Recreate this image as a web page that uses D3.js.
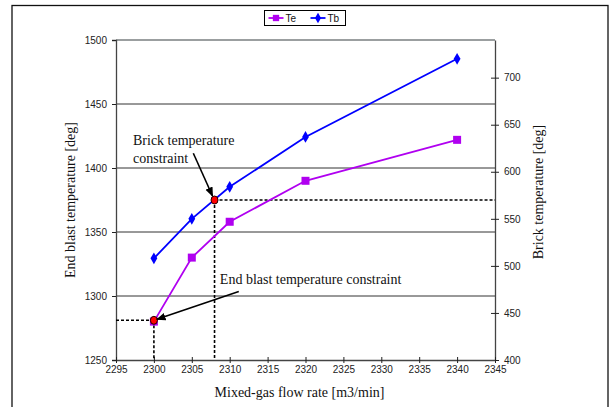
<!DOCTYPE html>
<html>
<head>
<meta charset="utf-8">
<script src="https://cdn.jsdelivr.net/npm/d3@7"></script>
<style>
  body { margin: 0; background: #fff; }
  .tick text { font-family: "Liberation Sans", Arial, sans-serif; font-size: 10px; fill: #222; }
  .title { font-family: "Liberation Serif", "Times New Roman", serif; font-size: 14px; fill: #111; }
</style>
</head>
<body>
<div id="chart"></div>
<script>
// data
let flow = [2300, 2305, 2310, 2320, 2340];
let te = [1280, 1330, 1358, 1390, 1422];      // End blast temperature (left axis)
let tb = [508, 550, 584, 637, 720];           // Brick temperature (right axis)
let xTicks = d3.range(2295, 2346, 5);
let yLeftTicks = [1250, 1300, 1350, 1400, 1450, 1500];
let yRightTicks = [400, 450, 500, 550, 600, 650, 700];
// constraint points
let endBlastPoint = {flow: 2300, te: 1281};
let brickPoint = {flow: 2308, tb: 570};

var W = 609, H = 407;
var margin = {top: 40, right: 114, bottom: 47, left: 116},
    width = W - margin.left - margin.right,
    height = H - margin.top - margin.bottom;

let svg = d3.select("#chart").append("svg")
    .attr("width", W)
    .attr("height", H);

// outer frame
svg.append("rect")
    .attr("x", 12).attr("y", 5.5)
    .attr("width", 596).attr("height", 410)
    .attr("fill", "none")
    .attr("stroke", "#111")
    .attr("stroke-width", 1.3);

let defs = svg.append("defs");
defs.append("marker")
    .attr("id", "arrow")
    .attr("viewBox", "0 0 10 10")
    .attr("refX", 9).attr("refY", 5)
    .attr("markerWidth", 6).attr("markerHeight", 6)
    .attr("orient", "auto")
  .append("path")
    .attr("d", "M0,1 L10,5 L0,9 z")
    .attr("fill", "#000");

let g = svg.append("g")
    .attr("transform", "translate(" + margin.left + "," + margin.top + ")");

let x = d3.scaleLinear().domain([2295, 2345]).range([0, width]);
let yL = d3.scaleLinear().domain([1250, 1500]).range([height, 0]);
let yR = d3.scaleLinear().domain([400, 740]).range([height, 0]);
let fmt = d3.format("d");

// grid lines
g.append("g")
    .selectAll("line")
    .data(yLeftTicks.slice(1, -1))
    .enter().append("line")
        .attr("x1", 0).attr("x2", width)
        .attr("y1", d => yL(d)).attr("y2", d => yL(d))
        .attr("stroke", "#333")
        .attr("stroke-width", 1);

// top frame
g.append("line")
    .attr("x1", 0).attr("x2", width)
    .attr("y1", yL(1500)).attr("y2", yL(1500))
    .attr("stroke", "#7a7f80").attr("stroke-width", 1.5);

// left axis
let leftAxis = g.append("g")
    .call(d3.axisLeft(yL).tickValues(yLeftTicks).tickFormat(fmt).tickSize(4).tickPadding(5));

// right axis
let rightAxis = g.append("g")
    .attr("transform", "translate(" + width + ",0)")
    .call(d3.axisRight(yR).tickValues(yRightTicks).tickFormat(fmt).tickSizeInner(4).tickSizeOuter(0).tickPadding(5));
rightAxis.selectAll(".tick line").attr("x1", -4);

// bottom axis
let bottomAxis = g.append("g")
    .attr("transform", "translate(0," + height + ")")
    .call(d3.axisBottom(x).tickValues(xTicks).tickFormat(fmt).tickSize(3).tickPadding(3).tickSizeOuter(0));
bottomAxis.selectAll(".tick line").attr("y1", -3);

[leftAxis, rightAxis, bottomAxis].forEach(a => {
    a.select(".domain").attr("stroke", "#444").attr("stroke-width", 1.3);
    a.selectAll(".tick line").attr("stroke", "#222");
});

// dashed constraint lines
let dash = g.append("g")
    .attr("stroke", "#000")
    .attr("stroke-width", 1.6)
    .attr("stroke-dasharray", "3,2")
    .attr("fill", "none");
dash.append("line")
    .attr("x1", 0).attr("x2", x(endBlastPoint.flow))
    .attr("y1", yL(endBlastPoint.te)).attr("y2", yL(endBlastPoint.te));
dash.append("line")
    .attr("x1", x(endBlastPoint.flow)).attr("x2", x(endBlastPoint.flow))
    .attr("y1", yL(endBlastPoint.te)).attr("y2", height);
dash.append("line")
    .attr("x1", x(brickPoint.flow)).attr("x2", x(brickPoint.flow))
    .attr("y1", yR(brickPoint.tb)).attr("y2", height);
dash.append("line")
    .attr("x1", x(brickPoint.flow)).attr("x2", width)
    .attr("y1", yR(brickPoint.tb)).attr("y2", yR(brickPoint.tb));

// series lines
let teData = flow.map((f, i) => ({f: f, v: te[i]}));
let tbData = flow.map((f, i) => ({f: f, v: tb[i]}));

g.append("path")
    .datum(teData)
    .attr("fill", "none")
    .attr("stroke", "#b000f0")
    .attr("stroke-width", 1.8)
    .attr("d", d3.line().x(d => x(d.f)).y(d => yL(d.v)));

g.append("path")
    .datum(tbData)
    .attr("fill", "none")
    .attr("stroke", "#0000ff")
    .attr("stroke-width", 1.8)
    .attr("d", d3.line().x(d => x(d.f)).y(d => yR(d.v)));

g.selectAll(".sq")
    .data(teData)
    .enter().append("rect")
        .attr("class", "sq")
        .attr("x", d => x(d.f) - 4)
        .attr("y", d => yL(d.v) - 4)
        .attr("width", 8).attr("height", 8)
        .attr("fill", "#b000f0");

let diamond = d3.symbol().type(d3.symbolDiamond).size(40);
g.selectAll(".dm")
    .data(tbData)
    .enter().append("path")
        .attr("class", "dm")
        .attr("d", diamond)
        .attr("transform", d => "translate(" + x(d.f) + "," + yR(d.v) + ")")
        .attr("fill", "#0000ff");

// red constraint markers
let redPts = [
    [x(endBlastPoint.flow), yL(endBlastPoint.te)],
    [x(brickPoint.flow), yR(brickPoint.tb)]
];
g.selectAll(".red")
    .data(redPts)
    .enter().append("ellipse")
        .attr("class", "red")
        .attr("cx", d => d[0]).attr("cy", d => d[1])
        .attr("rx", 3.5).attr("ry", 4)
        .attr("fill", "#ff0000")
        .attr("stroke", "#200")
        .attr("stroke-width", 1);

// annotations
let annot = g.append("g").attr("class", "title");
annot.append("text")
    .attr("x", x(2295) + 17).attr("y", yL(1420) + 3)
    .text("Brick temperature");
annot.append("text")
    .attr("x", x(2295) + 17).attr("y", yL(1406) + 3)
    .text("constraint");
annot.append("text")
    .attr("x", x(2308.7)).attr("y", yL(1309))
    .text("End blast temperature constraint");

g.append("line")
    .attr("x1", x(2305.2)).attr("y1", yL(1411.5))
    .attr("x2", x(brickPoint.flow) - 2).attr("y2", yR(brickPoint.tb) - 4)
    .attr("stroke", "#000").attr("stroke-width", 1.6)
    .attr("marker-end", "url(#arrow)");
g.append("line")
    .attr("x1", x(2311.2)).attr("y1", yL(1303.5))
    .attr("x2", x(endBlastPoint.flow) + 3).attr("y2", yL(endBlastPoint.te) - 1)
    .attr("stroke", "#000").attr("stroke-width", 1.6)
    .attr("marker-end", "url(#arrow)");

// axis titles
svg.append("text")
    .attr("class", "title")
    .attr("text-anchor", "middle")
    .attr("transform", "translate(75," + (margin.top + height / 2 + 0) + ") rotate(-90)")
    .text("End blast temperature [deg]");

svg.append("text")
    .attr("class", "title")
    .attr("text-anchor", "middle")
    .attr("transform", "translate(543," + (margin.top + height / 2 - 8) + ") rotate(-90)")
    .text("Brick temperature [deg]");

svg.append("text")
    .attr("class", "title")
    .attr("text-anchor", "middle")
    .attr("x", margin.left + width / 2 - 6)
    .attr("y", 397)
    .text("Mixed-gas flow rate [m3/min]");

// legend
let legend = svg.append("g").attr("transform", "translate(264.5,10.5)");
legend.append("rect")
    .attr("width", 81).attr("height", 15)
    .attr("fill", "#fff").attr("stroke", "#000").attr("stroke-width", 1);

let legendItems = [
    {name: "Te", color: "#b000f0", shape: "square"},
    {name: "Tb", color: "#0000ff", shape: "diamond"}
];
let li = legend.selectAll(".li")
    .data(legendItems)
    .enter().append("g")
        .attr("transform", (d, i) => "translate(" + (4 + i * 42) + ",7.5)");
li.append("line")
    .attr("x1", 0).attr("x2", 15)
    .attr("stroke", d => d.color).attr("stroke-width", 1.8);
li.append("path")
    .attr("transform", "translate(7.5,0)")
    .attr("d", d => d.shape == "square"
        ? d3.symbol().type(d3.symbolSquare).size(40)()
        : d3.symbol().type(d3.symbolDiamond).size(32)())
    .attr("fill", d => d.color);
li.append("text")
    .attr("x", 17).attr("y", 3.5)
    .style("font-family", "Liberation Sans, Arial, sans-serif")
    .style("font-size", "10px")
    .attr("fill", "#111")
    .text(d => d.name);
</script>
</body>
</html>
